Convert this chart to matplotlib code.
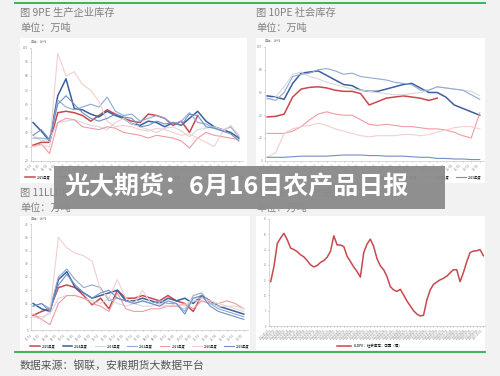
"""Recreate the PE / LLDPE inventory page with the overlay banner."""

import matplotlib
matplotlib.use("Agg")
import matplotlib.pyplot as plt
import numpy as np
from matplotlib.patches import Rectangle
from matplotlib.lines import Line2D

plt.rcParams["font.family"] = ["Noto Sans CJK SC", "DejaVu Sans"]

W, H = 500, 376

# ---- seasonal data (values every 2 weeks: weeks 1, 3, ..., 51) ----
WEEKS = list(range(1, 52, 2))
YEARS = ["2025年度", "2024年度", "2023年度", "2022年度", "2021年度", "2020年度", "2019年度"]
COLORS = ["#c8484e", "#3b5f9c", "#d8d8dc", "#8eaad6", "#ee9ca4", "#f3cfcf", "#6f8fc4"]
WIDTHS = [1.1, 1.1, 0.8, 0.8, 0.8, 0.8, 0.8]

pe_plant = [
    [31, 33, 33, 54, 55, 54, 52, 48, 52, 56, 53, 50, 48, 47, 53, 52, 50, 45, 48, 40, 52],
    [47, 41, 34, 66, 78, 57, 56, 53, 51, 55, 52, 50, 46, 45, 48, 47, 44, 47, 45, 50, 55, 48, 44, 42, 40, 36],
    [38, 34, 35, 47, 48, 49, 47, 45, 44, 42, 47, 50, 46, 44, 42, 40, 43, 44, 41, 37, 42, 43, 44, 42, 44, 38],
    [36, 36, 35, 63, 58, 56, 58, 60, 58, 65, 55, 52, 53, 48, 50, 52, 50, 46, 48, 54, 47, 46, 43, 41, 44, 37],
    [30, 32, 25, 47, 50, 49, 44, 43, 42, 44, 43, 40, 39, 38, 36, 38, 37, 36, 34, 29, 36, 40, 38, 37, 36, 35],
    [30, 31, 30, 96, 80, 83, 74, 70, 62, 48, 44, 45, 44, 42, 41, 43, 42, 40, 38, 39, 36, 33, 30, 40, 45, 38],
    [38, 42, 35, 60, 66, 60, 54, 50, 48, 50, 53, 51, 50, 44, 45, 48, 46, 47, 45, 53, 52, 44, 43, 41, 39, 34],
]

pe_social = [
    [38.5, 39, 41, 56, 63, 64.5, 65, 64, 62, 61, 61, 59, 49, 52, 55, 56, 57, 56, 55, 53, 55],
    [57, 56, 54, 68, 77, 78, 79, 75, 71, 67, 66, 62, 61, 61, 63, 65, 67, 68, 64, 60, 60, 56, 49, 46, 43, 40],
    [54, 56, 65, 76, 78, 74, 72, 69, 67, 65, 63, 62, 61, 60, 59, 58, 58, 59, 60, 62, 65, 64, 63, 62, 61, 57],
    [55, 53, 60, 74, 76, 77, 80, 81, 79, 76, 77, 74, 73, 72, 71, 69, 68, 67, 62, 62, 65, 64, 63, 62, 58, 54],
    [24, 24, 24, 26, 30, 36, 41, 43, 41, 40, 40, 36, 32, 31, 32, 31, 30, 30, 29, 28, 28, 27, 25, 22, 20, 42],
    [3, 7, 24, 28, 30, 31, 33, 31, 28, 26, 24, 22, 21, 22, 22, 22, 23, 23, 22, 23, 25, 27, 29, 30, 30, 28],
    [3, 3, 3, 3.5, 4, 4, 4, 4, 4.5, 5, 5, 5, 4.5, 4.5, 4, 4, 4, 3.5, 3, 3, 2, 2, 1.5, 1.5, 1, 1],
]

lldpe_plant = [
    [10.5, 12, 13, 21, 22, 21, 18, 14.5, 17, 13, 20, 17, 17, 18, 17, 16, 18, 16, 15, 12, 18],
    [15, 13, 12, 24, 27, 21, 19, 17, 18, 19, 20, 16, 16, 17, 16, 15, 17, 16, 17, 15, 18, 16, 14, 13, 12, 11],
    [10, 10, 11, 17, 18, 18, 17, 16, 15, 17, 15, 14, 15, 14, 14, 15, 14, 14, 13, 16, 16, 15, 14, 14, 13, 12],
    [14, 15, 13, 25, 28, 24, 21, 22, 21, 16, 17, 16, 15, 16, 15, 16, 15, 15, 12, 18, 19, 15, 13, 12, 11, 10],
    [11, 9, 7, 15, 18, 18, 17, 15, 14, 12, 19, 13, 12, 12, 13, 13, 14, 14, 15, 13, 16, 15, 15, 16, 15, 13],
    [10, 9, 12, 40, 36, 34, 33, 31, 20, 17, 24, 17, 15, 20, 15, 14, 14, 15, 14, 17, 17, 16, 15, 14, 14, 13],
    [14, 15, 12, 22, 26, 22, 19, 17, 19, 20, 17, 16, 15, 16, 15, 14, 16, 15, 11, 17, 18, 14, 12, 11, 10, 9],
]

# LLDPE social inventory, one continuous series
lldpe_social = [
    14.5, 19.5, 27, 28.8, 30.3, 28.2, 25.5, 25, 24.3, 23.3, 22.6, 21.4, 20, 19.3, 19.8,
    20.8, 21.4, 22.5, 24.4, 29.5, 26.5, 26.5, 26, 22.8, 21.1, 19.3, 17.8, 16, 24, 26.8,
    28.4, 26, 22, 19.7, 18.4, 16.2, 12.9, 11.8, 11.3, 12, 10.2, 8.2, 6.6, 5, 3.9,
    3.3, 3.5, 8.5, 11.8, 13.6, 14.4, 15.1, 15.6, 16.3, 17.4, 18.4, 18.4, 14.5, 17.5, 21,
    24, 24.5, 24.6, 25, 23,
]
lldpe_social_dates = [
    f"{2022 + (i * 3) // 52}-{(i * 3 % 52) // 4 + 1:02d}-{(i * 3 % 4) * 7 + 1:02d}"
    for i in range(len(lldpe_social))
]
week_labels = [f"{(w - 1) // 4 + 1:02d}-{((w - 1) % 4) * 7 + 1:02d}" for w in WEEKS]

GREY_TXT = "#7f7f7f"
SPINE = "#c8c8c8"


def fbox(l, t, r, b):
    return [l / W, 1 - b / H, (r - l) / W, (b - t) / H]


def style_axis(ax):
    for s in ("top", "right"):
        ax.spines[s].set_visible(False)
    for s in ("left", "bottom"):
        ax.spines[s].set_color(SPINE)
        ax.spines[s].set_linewidth(0.5)
    ax.tick_params(colors="#888888", labelsize=2.3, length=1, width=0.4, pad=1)
    ax.set_facecolor("white")


def panel_header(x, y, title):
    fig.text(x / W, 1 - y / H, title, fontsize=7.4, color=GREY_TXT, va="center")
    fig.text(x / W, 1 - (y + 15) / H, "单位：万吨", fontsize=7.3, color=GREY_TXT, va="center")


def seasonal(ax, data, ylim, yticks, legend_xy):
    for name, vals, c, lw in zip(YEARS, data, COLORS, WIDTHS):
        ax.plot(WEEKS[: len(vals)], vals, color=c, lw=lw, label=name)
    ax.set_xlim(0.5, 52)
    ax.set_ylim(*ylim)
    ax.set_yticks(yticks)
    ax.set_xticks(WEEKS)
    ax.set_xticklabels(week_labels, rotation=45, ha="right")
    ax.text(0.0, 1.04, "单位：万吨", transform=ax.transAxes, fontsize=2.3, color="#888888")
    style_axis(ax)
    ax.legend(loc="center", bbox_to_anchor=(legend_xy[0] / W, 1 - legend_xy[1] / H),
              bbox_transform=fig.transFigure, ncol=7, fontsize=2.3, frameon=False,
              handlelength=3, columnspacing=2.2, handletextpad=0.6)


fig = plt.figure(figsize=(W / 100, H / 100), dpi=100)
fig.patch.set_facecolor("#f2f2f2")

# white panel backgrounds
for l, t, r, b in [(20, 38, 247, 183), (256, 38, 485, 183), (20, 216, 250, 350), (256, 216, 485, 350)]:
    fig.add_artist(Rectangle((l / W, 1 - b / H), (r - l) / W, (b - t) / H,
                             transform=fig.transFigure, facecolor="white", edgecolor="none", zorder=0))

# green rules
for y in (3, 352):
    fig.add_artist(Line2D([15 / W, 485 / W], [1 - y / H, 1 - y / H], color="#3cb55a", lw=1.4,
                          transform=fig.transFigure))

panel_header(20, 13, "图 9PE 生产企业库存")
panel_header(256, 13, "图 10PE 社会库存")
panel_header(20, 193, "图 11LLDPE 生产企业库存")
panel_header(256, 193, "图 12LLDPE 社会库存")

ax1 = fig.add_axes(fbox(31, 47.7, 243, 160.7))
seasonal(ax1, pe_plant, (20, 100), range(20, 101, 10), (135, 177))

ax2 = fig.add_axes(fbox(265, 47, 484, 160.7))
seasonal(ax2, pe_social, (0, 100), range(0, 101, 20), (372, 177))

ax3 = fig.add_axes(fbox(31, 224, 248, 330))
seasonal(ax3, lldpe_plant, (5, 45), range(5, 46, 5), (140, 346))

ax4 = fig.add_axes(fbox(269, 219, 485, 326))
xs = np.arange(len(lldpe_social))
ax4.plot(xs, lldpe_social, color="#c8484e", lw=1.1, label="LLDPE：社会库存：中国（周）")
ax4.set_xlim(-0.5, len(lldpe_social) - 0.5)
ax4.set_ylim(0, 35)
ax4.set_yticks(range(0, 36, 5))
ax4.set_xticks(xs)
ax4.set_xticklabels(lldpe_social_dates, rotation=45, ha="right")
style_axis(ax4)
ax4.tick_params(labelsize=1.8)
ax4.legend(loc="center", bbox_to_anchor=(370 / W, 1 - 346 / H), bbox_transform=fig.transFigure,
           fontsize=2.5, frameon=False, handlelength=4)

fig.text(20 / W, 1 - 365 / H, "数据来源：钢联，安粮期货大数据平台", fontsize=7.8, color="#555555", va="center")

# overlay banner
fig.add_artist(Rectangle((54 / W, 1 - 209 / H), (445 - 54) / W, (209 - 166) / H,
                         transform=fig.transFigure, facecolor="#8c8c8c", edgecolor="none",
                         alpha=0.97, zorder=10))
fig.text(64 / W, 1 - 187 / H, "光大期货：6月16日农产品日报", fontsize=18, fontweight="bold",
         color="white", va="center", zorder=11)

fig.savefig("out.png", dpi=100, facecolor=fig.get_facecolor())
